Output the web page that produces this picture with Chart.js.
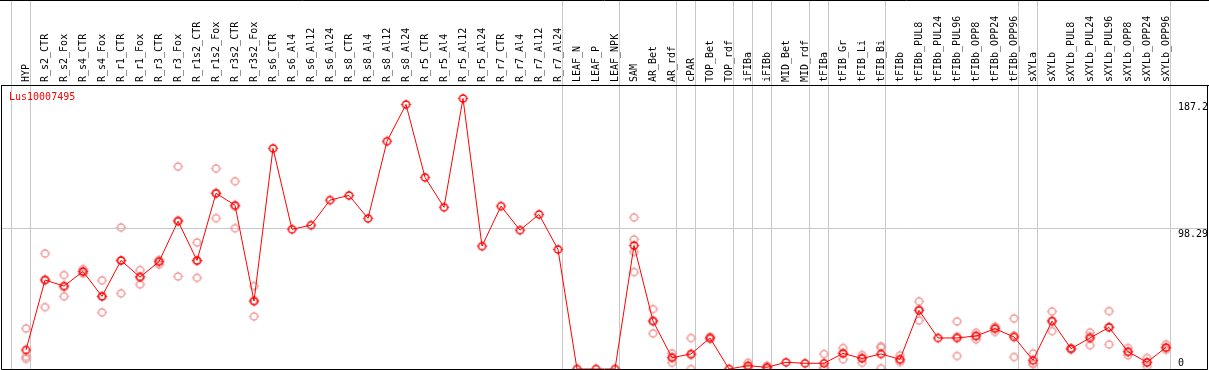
<!DOCTYPE html>
<html>
<head>
<meta charset="utf-8">
<script src="https://cdn.jsdelivr.net/npm/chart.js@4/dist/chart.umd.min.js"></script>
<style>
  html, body { margin: 0; padding: 0; background: #fff; }
  #wrap { width: 1209px; height: 370px; }
</style>
</head>
<body>
<div id="wrap"><canvas id="chart" width="1209" height="370"></canvas></div>
<script>
const geneName = 'Lus10007495';

const samples = [
  'HYP', 'R_s2_CTR', 'R_s2_Fox', 'R_s4_CTR', 'R_s4_Fox', 'R_r1_CTR', 'R_r1_Fox', 'R_r3_CTR', 'R_r3_Fox',
  'R_r1s2_CTR', 'R_r1s2_Fox', 'R_r3s2_CTR', 'R_r3s2_Fox', 'R_s6_CTR', 'R_s6_Al4', 'R_s6_Al12', 'R_s6_Al24',
  'R_s8_CTR', 'R_s8_Al4', 'R_s8_Al12', 'R_s8_Al24', 'R_r5_CTR', 'R_r5_Al4', 'R_r5_Al12', 'R_r5_Al24',
  'R_r7_CTR', 'R_r7_Al4', 'R_r7_Al12', 'R_r7_Al24', 'LEAF_N', 'LEAF_P', 'LEAF_NPK', 'SAM', 'AR_Bet', 'AR_rdf',
  'cPAR', 'TOP_Bet', 'TOP_rdf', 'iFIBa', 'iFIBb', 'MID_Bet', 'MID_rdf', 'tFIBa', 'tFIB_Gr', 'tFIB_Li', 'tFIB_Bi',
  'tFIBb', 'tFIBb_PUL8', 'tFIBb_PUL24', 'tFIBb_PUL96', 'tFIBb_OPP8', 'tFIBb_OPP24', 'tFIBb_OPP96',
  'sXYLa', 'sXYLb', 'sXYLb_PUL8', 'sXYLb_PUL24', 'sXYLb_PUL96', 'sXYLb_OPP8', 'sXYLb_OPP24', 'sXYLb_OPP96'
];

// mean expression per sample
const meanValues = [
  13.3, 62.2, 58.0, 68.2, 50.8, 75.9, 64.3, 75.0, 103.4,
  75.9, 122.9, 114.5, 47.5, 154.3, 97.7, 100.6, 118.1,
  121.4, 105.3, 159.3, 185.0, 134.0, 113.1, 189.2, 85.9,
  113.9, 97.1, 108.1, 83.6, 0, 0, 0, 86.4, 33.5, 7.9,
  10.5, 21.7, 0, 2.3, 1.2, 4.7, 4.0, 4.0, 10.9, 7.4, 10.5,
  6.8, 41.0, 21.7, 21.7, 23.1, 28.2, 22.4,
  6.1, 33.5, 14.2, 21.7, 29.1, 12.1, 4.7, 15.1
];

// replicates (null = not shown)
const rep1 = [
  28.4, 80.8, 65.7, 69.9, 62.0, 99.0, 69.2, 75.7, 141.6,
  88.5, 140.2, 131.3, 58.0, null, null, null, null,
  null, null, null, null, null, null, null, null,
  null, null, null, null, null, null, null, 106.0, 41.9, 10.9,
  21.7, 22.5, null, 4.4, 2.3, null, null, 10.5, 14.7, 9.8, 15.1,
  9.6, 47.3, null, 33.3, 25.4, 28.9, 35.4,
  10.9, 40.3, 14.6, 25.6, 40.5, 14.7, 7.7, 17.3
];
const rep2 = [
  8.6, 43.3, 50.8, 66.8, 39.6, 52.9, 59.2, 73.1, 64.7,
  63.8, 105.5, 98.5, 36.8, null, null, null, null,
  null, null, null, null, null, null, null, null,
  null, null, null, null, null, null, null, 67.8, 24.9, 4.4,
  0, 21.0, null, 1.0, 0.5, null, null, 0.5, 6.8, 4.4, 0.5,
  4.9, 34.0, null, 9.1, 20.7, 26.0, 8.4,
  4.0, 26.5, 13.8, 16.6, 17.2, 9.6, 1.9, 14.5
];
const rep3 = [
  7.2, 62.5, 57.5, 68.0, 50.8, 75.9, 64.5, 76.2, 103.8,
  75.5, 123.0, 113.7, 47.7, null, null, null, null,
  null, null, null, null, null, null, null, null,
  null, null, null, null, null, null, null, 90.6, 33.7, 8.4,
  9.8, 21.6, null, 1.5, 0.8, null, null, 1.0, 11.2, 8.0, 15.9,
  5.9, 41.7, null, 22.7, 23.2, 29.7, 23.4,
  3.4, 33.7, 14.2, 22.9, 29.6, 12.0, 4.5, 13.5
];
const rep4 = samples.map((s) => s === 'SAM' ? 81.9 : null);

const yTicks = [0, 98.29, 187.2];
// group boundaries: a grey separator is drawn after these sample numbers
const groupEnds = [0, 1, 29, 32, 35, 36, 38, 39, 40, 42, 43, 46, 53, 54, 61];

const FONT = { family: 'DejaVu Sans Mono', size: 10 };
const xMin = -0.316, xMax = 63.21, yMax = 198.6;

function makeMarker(color) {
  const c = document.createElement('canvas');
  c.width = 13; c.height = 13;
  const g = c.getContext('2d');
  g.strokeStyle = color;
  g.lineWidth = 1.5;
  g.beginPath();
  g.arc(6.5, 6.5, 3.6, 0, Math.PI * 2);
  g.stroke();
  g.lineWidth = 1;
  g.beginPath();
  g.moveTo(6.5, 1.5); g.lineTo(6.5, 3);
  g.moveTo(6.5, 10); g.lineTo(6.5, 11.5);
  g.moveTo(1.5, 6.5); g.lineTo(3, 6.5);
  g.moveTo(10, 6.5); g.lineTo(11.5, 6.5);
  g.stroke();
  return c;
}
const redMarker = makeMarker('#ff0000');
const pinkMarker = makeMarker('#f09898');

function toPoints(arr) {
  return arr.map((v, i) => ({ x: i + 1, y: v })).filter(p => p.y !== null);
}

function repDataset(arr) {
  return {
    data: toPoints(arr),
    showLine: false,
    pointStyle: pinkMarker,
    pointRadius: 5,
    borderColor: '#f09898'
  };
}

const framePlugin = {
  id: 'frame',
  afterDraw(chart) {
    const ctx = chart.ctx;
    const a = chart.chartArea;
    const y = chart.scales.y;
    ctx.save();
    ctx.strokeStyle = '#000';
    ctx.lineWidth = 1;
    ctx.beginPath();
    ctx.moveTo(0, 0.5); ctx.lineTo(chart.width, 0.5);
    ctx.moveTo(a.left + 0.5, a.top); ctx.lineTo(a.left + 0.5, a.bottom + 0.5);
    ctx.lineTo(a.right - 0.5, a.bottom + 0.5);
    ctx.lineTo(a.right - 0.5, a.top);
    ctx.stroke();

    ctx.font = '10px "DejaVu Sans Mono"';
    ctx.fillStyle = '#000';
    ctx.textAlign = 'left';
    yTicks.forEach(v => {
      if (v === 0) {
        ctx.textBaseline = 'alphabetic';
        ctx.fillText('0', a.right - 30, a.bottom - 3);
      } else {
        ctx.textBaseline = 'top';
        ctx.fillText(String(v), a.right - 30, y.getPixelForValue(v) + 1);
      }
    });

    ctx.fillStyle = '#ff0000';
    ctx.textBaseline = 'top';
    ctx.fillText(geneName, a.left + 8, a.top + 7);
    ctx.restore();
  }
};

new Chart(document.getElementById('chart').getContext('2d'), {
  type: 'line',
  data: {
    datasets: [
      {
        data: toPoints(meanValues),
        borderColor: '#ff0000',
        borderWidth: 1,
        pointStyle: redMarker,
        pointRadius: 5,
        fill: false,
        tension: 0
      },
      repDataset(rep1),
      repDataset(rep2),
      repDataset(rep3),
      repDataset(rep4)
    ]
  },
  options: {
    responsive: false,
    animation: false,
    layout: { autoPadding: false, padding: { left: 1, right: 1, top: 0, bottom: 1 } },
    plugins: {
      legend: { display: false },
      tooltip: { enabled: false }
    },
    scales: {
      x: {
        type: 'linear',
        position: 'top',
        weight: 1,
        min: xMin,
        max: xMax,
        afterBuildTicks: (scale) => { scale.ticks = samples.map((s, i) => ({ value: i + 1 })); },
        afterFit: (scale) => {
          scale.height = 85;
          scale.paddingLeft = 0;
          scale.paddingRight = 0;
        },
        ticks: {
          autoSkip: false,
          minRotation: 90,
          maxRotation: 90,
          padding: 3,
          labelOffset: 12,
          color: '#000',
          font: FONT,
          callback: (v) => samples[v - 1]
        },
        grid: { display: false, drawTicks: false },
        border: { display: true, color: '#000', width: 1 }
      },
      sep: {
        type: 'linear',
        position: 'top',
        weight: 0,
        min: xMin,
        max: xMax,
        afterBuildTicks: (scale) => { scale.ticks = groupEnds.map(k => ({ value: k + 0.22 })); },
        afterFit: (scale) => {
          scale.height = 0;
          scale.paddingLeft = 0;
          scale.paddingRight = 0;
        },
        ticks: { display: false },
        grid: { color: '#c8c8c8', lineWidth: 1, drawTicks: true, tickLength: 85 },
        border: { display: false }
      },
      y: {
        type: 'linear',
        position: 'right',
        min: 0,
        max: yMax,
        afterBuildTicks: (scale) => { scale.ticks = yTicks.map(v => ({ value: v })); },
        afterFit: (scale) => {
          scale.width = 0;
          scale.paddingTop = 0;
          scale.paddingBottom = 0;
        },
        ticks: { display: false },
        grid: {
          drawTicks: false,
          color: (c) => c.tick && c.tick.value === 98.29 ? '#c8c8c8' : 'rgba(0,0,0,0)'
        },
        border: { display: false }
      }
    }
  },
  plugins: [framePlugin]
});
</script>
</body>
</html>
